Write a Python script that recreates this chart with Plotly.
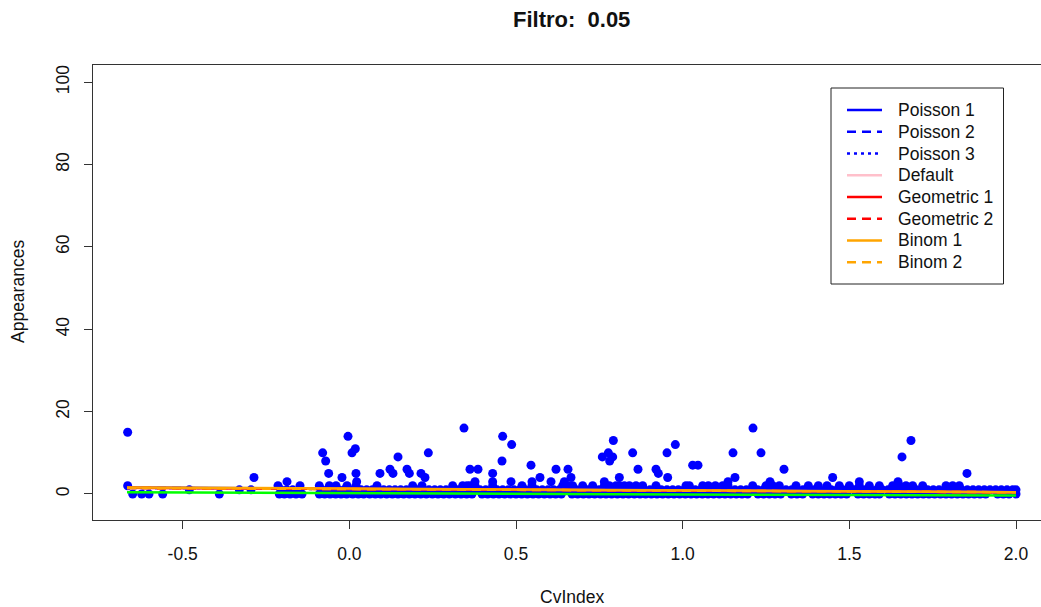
import plotly.graph_objects as go

# ---- observations: CvIndex values grouped by Appearances count ----
cv_at_0 = [-0.650, -0.623, -0.601, -0.560, -0.390,
           -0.210, -0.195, -0.178, -0.160, -0.142,
           -0.090, -0.074, -0.058, -0.041, -0.025, -0.008, 0.010, 0.027, 0.043, 0.061,
           0.078, 0.094, 0.112, 0.129, 0.146, 0.163, 0.180, 0.197, 0.214, 0.231,
           0.249, 0.266, 0.283, 0.300, 0.318, 0.335, 0.352, 0.368, 0.398, 0.415,
           0.432, 0.449, 0.466, 0.483, 0.500, 0.517, 0.534, 0.551, 0.568, 0.585,
           0.602, 0.619, 0.636, 0.668, 0.685, 0.702, 0.719, 0.736, 0.753, 0.770,
           0.787, 0.804, 0.821, 0.838, 0.855, 0.872, 0.889, 0.906, 0.923, 0.940,
           0.957, 0.974, 0.991, 1.008, 1.025, 1.042, 1.059, 1.076, 1.093, 1.110,
           1.127, 1.144, 1.161, 1.178, 1.195, 1.226, 1.243, 1.260, 1.277, 1.294,
           1.326, 1.343, 1.360, 1.390, 1.407, 1.424, 1.441, 1.458, 1.475, 1.492,
           1.526, 1.543, 1.560, 1.577, 1.590, 1.620, 1.637, 1.654, 1.671, 1.688,
           1.705, 1.722, 1.739, 1.756, 1.773, 1.790, 1.807, 1.824, 1.841, 1.858,
           1.875, 1.892, 1.909, 1.945, 1.962, 1.979, 2.000]

cv_at_1 = [-0.480, -0.330, -0.295, -0.205, -0.188, -0.170, -0.150,
           -0.082, -0.066, -0.049, -0.033, -0.016, 0.001, 0.018, 0.035, 0.052,
           0.069, 0.086, 0.103, 0.120, 0.137, 0.154, 0.171, 0.188, 0.205, 0.222,
           0.239, 0.256, 0.273, 0.290, 0.307, 0.324, 0.341, 0.358, 0.375, 0.392,
           0.409, 0.426, 0.443, 0.460, 0.477, 0.494, 0.511, 0.528, 0.545, 0.562,
           0.579, 0.596, 0.613, 0.630, 0.647, 0.664, 0.681, 0.698, 0.715, 0.732,
           0.749, 0.766, 0.783, 0.800, 0.817, 0.834, 0.851, 0.868, 0.885, 0.902,
           0.919, 0.936, 0.953, 0.970, 0.987, 1.004, 1.021, 1.038, 1.055, 1.072,
           1.089, 1.106, 1.123, 1.140, 1.157, 1.174, 1.191, 1.208, 1.225, 1.242,
           1.259, 1.276, 1.293, 1.310, 1.327, 1.344, 1.361, 1.378, 1.395, 1.412,
           1.429, 1.446, 1.463, 1.480, 1.497, 1.514, 1.531, 1.548, 1.565, 1.582,
           1.599, 1.616, 1.633, 1.650, 1.667, 1.684, 1.701, 1.718, 1.735, 1.752,
           1.769, 1.786, 1.803, 1.820, 1.837, 1.854, 1.871, 1.888, 1.905, 1.922,
           1.939, 1.956, 1.973, 1.990, 2.000]

cv_at_2 = [-0.665, -0.214, -0.148, -0.090, -0.060, -0.040, -0.007, 0.020, 0.083,
           0.190, 0.218, 0.310, 0.340, 0.353, 0.362, 0.377, 0.430, 0.518, 0.548,
           0.640, 0.655, 0.670, 0.700, 0.730, 0.765, 0.780, 0.800, 0.810, 0.825,
           0.840, 0.860, 0.880, 0.920, 1.010, 1.020, 1.060, 1.077, 1.098, 1.120,
           1.136, 1.210, 1.250, 1.270, 1.290, 1.340, 1.377, 1.407, 1.433, 1.470,
           1.500, 1.530, 1.560, 1.590, 1.630, 1.650, 1.670, 1.690, 1.720, 1.790,
           1.810, 1.830]

# higher counts, listed point by point
high_cv = [-0.665, -0.286, -0.187, -0.080, -0.071, -0.062, -0.022, -0.004, 0.008,
           0.018, 0.020, 0.022, 0.092, 0.122, 0.131, 0.146, 0.173, 0.180, 0.215,
           0.227, 0.237, 0.344, 0.362, 0.377, 0.386, 0.430, 0.430, 0.458, 0.460,
           0.485, 0.487, 0.545, 0.548, 0.572, 0.605, 0.620, 0.656, 0.645, 0.665,
           0.759, 0.777, 0.781, 0.790, 0.792, 0.765, 0.810, 0.850, 0.866, 0.920,
           0.927, 0.955, 0.953, 0.978, 1.030, 1.046, 1.136, 1.151, 1.157, 1.211,
           1.235, 1.262, 1.304, 1.450, 1.530, 1.646, 1.658, 1.685, 1.853]
high_app = [15, 4, 3, 10, 8, 5, 4, 14, 10,
            11, 5, 3, 5, 6, 5, 9, 6, 5, 5,
            4, 10, 16, 6, 3, 6, 5, 3, 8, 14,
            3, 12, 7, 3, 4, 3, 6, 6, 3, 4,
            9, 10, 8, 9, 13, 3, 4, 10, 6, 6,
            5, 4, 10, 12, 7, 7, 3, 10, 4, 16,
            10, 3, 6, 4, 3, 3, 9, 13, 5]

# ---- fitted curves, evaluated along CvIndex ----
curve_cv = [-0.667, -0.2, 0.3, 0.8, 1.2, 1.6, 2.0]
poisson_1 = [1.55, 1.35, 1.10, 0.95, 0.78, 0.62, 0.45]
poisson_2 = [1.50, 1.30, 1.08, 0.92, 0.75, 0.60, 0.42]
poisson_3 = [1.45, 1.28, 1.05, 0.90, 0.72, 0.58, 0.40]
default_fit = [1.45, 1.30, 1.08, 0.92, 0.75, 0.60, 0.42]
geometric_1 = [1.50, 1.32, 1.08, 0.93, 0.76, 0.60, 0.42]
geometric_2 = [1.45, 1.30, 1.05, 0.90, 0.74, 0.58, 0.40]
binom_1 = [1.60, 1.40, 1.15, 1.00, 0.80, 0.65, 0.45]
binom_2 = [1.45, 1.30, 1.08, 0.92, 0.75, 0.60, 0.42]
trend = [0.40, 0.30, 0.10, -0.05, -0.20, -0.30, -0.35]

legend_names = ["Poisson 1", "Poisson 2", "Poisson 3", "Default",
                "Geometric 1", "Geometric 2", "Binom 1", "Binom 2"]
legend_colors = ["#0000FF", "#0000FF", "#0000FF", "#FFC0CB",
                 "#FF0000", "#FF0000", "#FFA500", "#FFA500"]
legend_dashes = ["solid", "9px,6px", "3px,4px", "solid",
                 "solid", "9px,6px", "solid", "9px,6px"]
curves = [poisson_1, poisson_2, poisson_3, default_fit,
          geometric_1, geometric_2, binom_1, binom_2]

FONT = "Liberation Sans, Arial, Helvetica, sans-serif"
W, H = 1041, 607
L, R_, T, B = 93, 0, 65, 87          # plot area margins in px
PW, PH = W - L - R_, H - T - B


def px_x(px):
    return (px - L) / PW


def px_y(py):
    return (H - B - py) / PH


xs = cv_at_0 + cv_at_1 + cv_at_2 + high_cv
ys = [0] * len(cv_at_0) + [1] * len(cv_at_1) + [2] * len(cv_at_2) + high_app

fig = go.Figure()
fig.add_trace(go.Scatter(x=xs, y=ys, mode="markers", showlegend=False,
                         marker=dict(color="#0000FF", size=9, line=dict(width=0))))

for name, color, dash, vals in zip(legend_names, legend_colors, legend_dashes, curves):
    fig.add_trace(go.Scatter(x=curve_cv, y=vals, mode="lines", name=name, showlegend=False,
                             line=dict(color=color, width=2.5, dash=dash)))
fig.add_trace(go.Scatter(x=curve_cv, y=trend, mode="lines", showlegend=False,
                         line=dict(color="#00FF00", width=2.5)))

shapes = []
annotations = []

# legend box
shapes.append(dict(type="rect", xref="paper", yref="paper",
                   x0=px_x(831), x1=px_x(1003.5), y0=px_y(284), y1=px_y(88),
                   fillcolor="white", line=dict(color="#222", width=1), layer="above"))
for i, (name, color, dash) in enumerate(zip(legend_names, legend_colors, legend_dashes)):
    yy = px_y(110 + 21.75 * i)
    shapes.append(dict(type="line", xref="paper", yref="paper",
                       x0=px_x(847), x1=px_x(882), y0=yy, y1=yy,
                       line=dict(color=color, width=2.5, dash=dash), layer="above"))
    annotations.append(dict(text=name, xref="paper", yref="paper", x=px_x(896), y=yy,
                            xanchor="left", yanchor="middle", showarrow=False,
                            font=dict(family=FONT, size=17.5, color="#111")))

# titles
annotations.append(dict(text="<b>Filtro:  0.05</b>", xref="paper", yref="paper",
                        x=px_x(571), y=px_y(20), xanchor="center", yanchor="middle",
                        showarrow=False, font=dict(family=FONT, size=22, color="#111")))
annotations.append(dict(text="CvIndex", xref="paper", yref="paper",
                        x=px_x(572), y=px_y(597), xanchor="center", yanchor="middle",
                        showarrow=False, font=dict(family=FONT, size=17.5, color="#111")))
annotations.append(dict(text="Appearances", xref="paper", yref="paper",
                        x=px_x(18), y=px_y(292), xanchor="center", yanchor="middle",
                        textangle=-90, showarrow=False,
                        font=dict(family=FONT, size=17.5, color="#111")))

fig.update_layout(
    width=W, height=H,
    margin=dict(l=L, r=R_, t=T, b=B, pad=0),
    paper_bgcolor="white", plot_bgcolor="white",
    showlegend=False,
    shapes=shapes, annotations=annotations,
    font=dict(family=FONT, size=17.5, color="#111"),
)
fig.update_xaxes(range=[-0.769, 2.075], tickvals=[-0.5, 0.0, 0.5, 1.0, 1.5, 2.0],
                 ticktext=["-0.5", "0.0", "0.5", "1.0", "1.5", "2.0"],
                 showgrid=False, zeroline=False, showline=True, mirror=True,
                 linecolor="#333", linewidth=1, ticks="outside", ticklen=8,
                 tickcolor="#333", ticklabelstandoff=10,
                 tickfont=dict(family=FONT, size=17.5, color="#111"))
fig.update_yaxes(range=[-6.32, 104.2], tickvals=[0, 20, 40, 60, 80, 100],
                 showgrid=False, zeroline=False, showline=True, mirror=False,
                 linecolor="#333", linewidth=1, ticks="outside", ticklen=8,
                 tickcolor="#333", tickangle=-90, ticklabelstandoff=8,
                 tickfont=dict(family=FONT, size=17.5, color="#111"))

fig.write_html("out.html")
